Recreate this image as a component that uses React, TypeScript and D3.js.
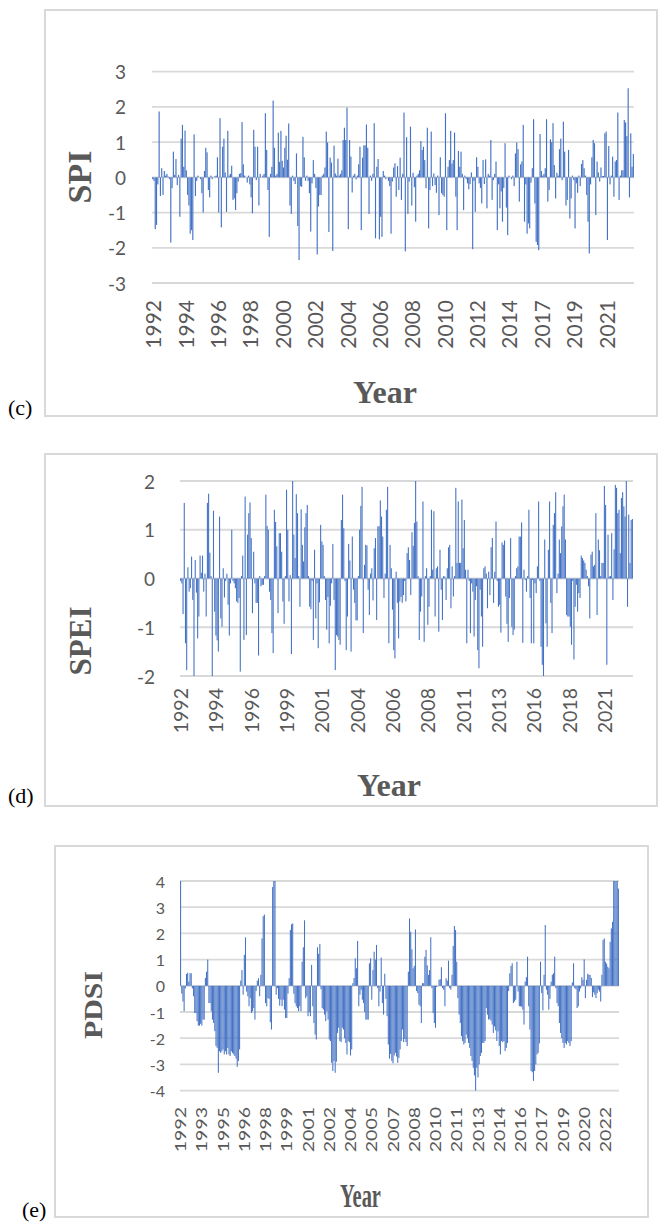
import React from 'react';
import * as d3 from 'd3';

// monthly series, Jan 1992 .. Dec 2022
const YEARS = [
  1992, 1993, 1994, 1995, 1996, 1997, 1998, 1999, 2000, 2001, 2002,
  2003, 2004, 2005, 2006, 2007, 2008, 2009, 2010, 2011, 2012, 2013,
  2014, 2015, 2016, 2017, 2018, 2019, 2020, 2021, 2022,
];
const MONTHS = YEARS.flatMap((y) => d3.range(1, 13).map((m) => `${y}-${m}`));

const SPI = [
  -0.05, -0.1, -1.47, -1.35, -0.2, 1.87, -0.53, 0.26, -0.5, 0.18, 0.05, 0.1,
  0.02, -0.05, -1.85, -0.31, 0.73, 0.07, 0.52, -0.22, 0.07, -1.12, 1.1, 1.49,
  0.3, 1.33, 0.2, -0.5, -0.8, -1.6, -1.5, -1.78, 1.22, -0.53, -0.1, 0.05,
  0.0, -0.05, -0.45, -1.0, 0.18, 0.84, 0.71, -0.36, -0.57, 0.05, -0.05, 0.0,
  0.03, 0.05, 0.57, -1.0, 1.68, -1.42, 0.87, 1.1, 0.14, -0.98, 1.32, 0.05,
  0.1, 0.33, -0.64, -0.6, -0.93, -0.45, -0.12, 0.1, 0.12, 1.57, 0.37, 0.05,
  0.0, -0.15, 0.05, -0.2, -0.57, -1.02, 1.35, 0.87, -0.08, 0.87, -0.8, 0.1,
  0.0, 0.05, 0.1, 1.82, 0.78, -0.36, -1.69, 0.1, 0.3, 2.18, 0.84, 0.05,
  0.1, 1.27, 0.44, 1.32, 0.47, 0.28, 0.84, 1.18, 0.5, 1.53, -0.8, -1.04,
  0.05, -0.1, -0.19, 0.68, -1.38, -2.35, -0.25, -0.27, 1.15, 0.57, -0.1, 0.05,
  -0.1, -0.45, -1.54, -0.17, 0.49, 0.1, -0.3, -2.19, -0.83, -0.5, -0.5, 0.05,
  0.1, 0.28, 1.3, 0.99, -1.55, 0.56, 0.42, -2.09, 0.9, 0.11, 0.05, 0.53,
  0.05, 0.1, 0.2, 1.06, 1.41, 1.06, 1.98, -1.47, 1.06, 0.59, -0.43, 0.05,
  0.1, -0.06, 0.05, 0.37, 0.87, -1.5, 0.56, 0.91, 0.91, 1.5, 0.84, -1.04,
  0.05, -0.1, 0.1, 1.54, -1.73, 0.3, 0.52, -1.76, -1.12, -1.69, 0.18, 0.05,
  -0.05, 0.0, -0.1, -0.25, -1.6, -0.12, 0.28, 0.4, -0.55, 0.32, -0.36, 0.56,
  -0.64, 0.1, 1.84, -2.1, 1.14, -1.04, -0.12, 1.44, -0.8, 0.13, -0.28, -1.26,
  0.05, 0.1, 0.2, 1.03, 0.78, 0.87, 0.49, -0.31, 1.41, -1.45, -0.36, 1.3,
  -0.25, 0.11, -0.22, -0.44, 0.05, -1.07, 0.57, -0.45, -0.5, -0.55, 1.82, -1.5,
  0.3, 0.49, 1.32, 0.39, 0.49, 1.27, -0.55, -1.5, 0.75, 0.3, 0.73, 0.1,
  -0.93, 0.05, -0.05, -0.17, -0.34, -0.19, 0.14, -2.04, -0.1, -0.98, 0.57, 0.3,
  -0.17, -0.3, -0.74, 0.49, -0.19, 0.51, -0.88, 0.1, 0.05, 1.06, -0.64, -0.08,
  0.1, 0.45, -1.5, -0.2, -0.88, -0.4, -1.26, -0.3, 0.97, -0.86, -1.64, 0.05,
  0.0, -0.05, 0.05, -0.25, 0.68, 0.99, 0.8, -0.69, 0.37, 0.45, 1.49, -1.26,
  -0.2, -1.6, -1.31, -1.45, -0.15, 0.26, 1.65, -0.74, -1.83, -1.92, -2.07, 1.23,
  0.18, 0.05, 0.1, 0.26, 1.65, -0.69, -0.36, 1.08, 1.0, 1.54, 0.35, -0.6,
  0.13, 0.05, 0.8, 1.1, -0.08, 1.58, 0.73, -0.8, -0.64, 0.78, -1.17, -0.6,
  0.05, -0.08, -1.45, -0.17, -0.44, 0.05, -0.25, 0.38, 0.49, 0.26, 0.05, -0.5,
  -1.26, -2.16, -0.2, 0.57, 1.06, 0.97, -1.07, 0.45, 0.14, -0.12, 0.28, 0.04,
  0.04, 1.25, 1.3, -1.78, 0.89, -0.2, 0.05, 0.59, -0.55, 0.45, 0.49, 1.84,
  -0.64, 0.05, 0.2, 0.2, 1.63, 1.56, 1.17, 2.53, -0.57, 1.25, 0.3, 0.66,
];

const SPEI = [
  -0.05, -0.1, -0.73, 1.55, -1.33, -1.88, 0.23, -0.27, -0.2, 0.45, -0.44, -2.0,
  0.38, -0.29, -1.23, -0.78, 0.47, 0.12, 0.47, -0.27, 0.1, -0.78, 1.55, 1.74,
  0.53, 0.05, -2.0, 1.39, -0.68, -1.17, -1.27, -1.5, 1.27, -0.82, -0.99, 0.21,
  -0.39, -0.05, 0.1, -0.54, -1.17, -0.1, 1.0, -0.05, -0.1, -0.2, -0.47, -0.5,
  -0.4, -1.91, 0.05, 0.47, -1.26, 1.68, -1.16, 0.9, 1.34, 1.56, 0.83, -0.71,
  0.55, -0.1, -0.5, -0.5, -1.58, 0.05, -0.16, -0.13, -0.13, 0.05, 1.72, 1.08,
  1.0, -0.27, -0.44, -1.12, -1.53, 1.41, 1.16, 0.66, -0.71, 0.93, 0.93, 0.55,
  -0.47, -0.93, 0.05, 1.82, 1.0, -0.47, 0.07, -1.55, 2.03, 0.9, 0.42, 1.73,
  1.34, 0.05, -0.58, 1.42, 0.69, 0.35, 1.05, 1.34, 1.51, 0.05, -0.58, -0.63,
  -0.05, -1.26, 0.59, -0.82, -0.1, -1.43, -0.49, 1.1, 0.76, 0.69, 0.05, -0.44,
  -1.05, -0.38, -1.33, -0.56, -0.1, 0.71, -0.44, -1.88, -1.16, -1.19, -1.26, -1.36,
  1.2, 1.72, 1.03, -0.05, -1.47, -0.78, 0.71, 0.37, -1.5, 0.86, -0.23, -0.5,
  -0.86, -0.86, 0.05, 1.0, 1.49, 1.88, -1.12, 0.28, 0.69, 0.68, -0.23, -0.75,
  0.1, 0.21, -0.45, 0.62, 0.83, -0.85, 1.07, 1.07, 1.6, 1.27, 0.86, -0.4,
  0.1, 1.41, 1.88, -1.33, 0.69, 0.21, -0.64, -1.47, -1.64, 0.14, -0.5, -1.23,
  -0.47, -0.38, -0.5, -0.34, -0.05, -0.47, 0.52, 0.64, 0.38, -0.34, 0.95, 0.67,
  1.14, 2.01, 1.17, 0.05, -1.26, -0.68, -0.37, 1.58, -1.3, 0.05, 0.21, -0.95,
  -0.58, 0.05, 1.41, 0.18, 1.38, -0.78, 0.21, 0.25, -1.09, 0.59, -0.23, -0.85,
  0.05, 0.04, -0.44, 0.21, 0.64, 0.69, -0.61, 0.25, -0.37, 0.05, 1.86, 0.32,
  1.58, 0.32, 0.32, 1.62, 0.62, 1.2, 0.18, -1.33, 0.18, -0.05, -1.12, -0.1,
  -0.27, -1.19, -0.44, -0.16, -1.47, -1.84, -0.23, -0.78, -1.4, 0.21, 0.25, 0.1,
  -0.61, 0.14, -0.34, 0.64, 0.83, -0.5, 0.14, 1.17, -0.05, -0.58, -0.54, -1.11,
  0.74, 0.69, 0.78, -0.37, -0.93, -1.3, -0.4, 0.83, -0.99, -1.16, -1.05, 0.05,
  0.21, 0.25, 0.86, 0.86, 1.15, -1.32, 0.18, -0.03, -0.27, 0.05, 1.41, -0.4,
  -1.33, -0.03, -1.33, -0.1, -0.3, 0.25, 1.58, -0.05, -1.4, -1.77, -2.01, 0.8,
  -0.92, -1.4, 0.59, 1.58, -0.5, -1.12, 1.1, 1.34, 1.77, -0.3, 0.1, 0.8,
  0.52, 1.07, 1.48, 1.72, 0.8, -0.75, -0.78, -0.78, -0.99, -1.36, -0.05, -1.66,
  -0.58, -0.13, -0.68, -0.3, -0.4, 0.47, 0.42, 0.37, 0.32, 0.18, 0.05, -0.16,
  -0.82, 0.49, 0.55, 0.25, 0.28, 1.34, -0.75, 0.8, 0.58, 0.05, 0.32, 0.32,
  1.9, 1.51, -1.77, 0.9, 0.04, 0.05, 0.93, -0.44, 0.6, 1.92, 1.86, 1.34,
  1.41, 0.52, 1.65, 1.77, 1.48, 1.27, 2.03, -0.58, 1.31, 0.32, 1.2, 1.22,
];

const PDSI = [
  4.0, -0.3, -0.6, -0.97, -0.1, 0.45, 0.5, 0.16, 0.48, 0.48, -0.1, -0.4,
  -1.04, -1.04, -1.35, -1.52, -1.52, -1.45, -1.52, -1.29, -1.29, 0.3, 0.54, 1.0,
  -0.66, -0.66, -0.97, -1.29, -1.42, -1.73, -2.3, -2.37, -3.32, -2.5, -2.56, -2.5,
  -2.43, -2.62, -2.5, -2.62, -2.37, -2.62, -2.68, -2.5, -2.56, -2.62, -2.68, -2.78,
  -3.09, -2.87, -2.43, 0.2, 0.6, -0.34, 1.18, 1.85, -0.22, -0.4, -0.78, -0.47,
  -1.04, -0.97, -0.85, -1.29, -0.2, 0.2, 0.29, -0.4, 0.42, 1.81, 2.66, 2.72,
  -0.66, -0.78, -0.47, -0.5, -1.39, -1.67, 3.77, 4.0, 4.0, -0.34, -0.09, -0.5,
  -0.76, -0.53, -0.78, -0.53, -0.91, -1.23, -1.23, -0.3, 0.29, 2.13, 2.35, 2.38,
  -0.3, -0.66, -0.78, -0.85, -0.97, -0.78, -0.97, 0.92, 1.47, 2.5, -0.47, -0.4,
  -1.16, -1.0, -1.16, 0.8, -0.78, -1.42, -1.86, -2.05, 1.47, 1.22, 1.6, -0.13,
  -0.85, -0.91, -1.1, -1.35, -0.97, -1.29, -2.05, -2.11, -2.94, -3.25, -2.87, -3.32,
  -2.9, -1.8, -1.6, -2.11, -2.15, -1.6, -1.67, -2.0, -2.18, -2.62, -2.11, -2.15,
  -2.66, -2.43, 0.1, 0.3, 1.05, 0.67, 1.71, -0.78, -0.34, -0.15, -0.53, -0.66,
  -1.0, -1.29, -1.29, -1.29, 0.86, 1.05, -0.53, 0.6, 1.3, 1.0, 1.56, -0.09,
  -0.78, -0.22, 1.08, -0.66, -1.1, 0.46, -0.5, -1.16, -2.24, -2.78, -2.6, -2.87,
  -2.96, -2.66, -2.56, -2.7, -2.94, -2.75, -2.43, -2.11, -1.67, -2.15, -2.03, -2.15,
  -2.3, 0.54, 2.57, 2.06, 1.39, 0.67, 0.76, 2.15, -0.2, -0.28, -0.72, -0.78,
  -1.42, 0.1, 0.1, 1.11, 1.37, 0.78, 0.42, 0.6, 1.85, -0.09, -1.04, -1.42,
  -1.6, -0.05, 0.0, 0.23, 0.25, 0.71, -0.09, -0.15, -0.78, 0.29, 0.2, 0.96,
  -0.09, -0.15, 0.42, 1.52, 2.28, 2.13, 0.92, -0.47, -1.1, -1.42, -1.92, -2.11,
  -2.24, -2.18, -1.86, -2.0, -2.18, -2.37, -2.68, -2.87, -3.13, -3.42, -4.0, -3.13,
  -3.5, -3.0, -2.68, -2.56, -2.18, -2.18, -2.11, -0.85, -1.1, -1.29, -1.27, -1.33,
  -1.48, -1.8, -1.55, -1.7, -2.11, -1.74, -2.3, -2.62, -2.11, -2.15, -2.11, -2.49,
  -2.37, -2.18, -0.2, 0.48, 0.76, 0.86, -0.66, -0.6, -0.53, 0.92, -0.22, -0.78,
  -0.78, -0.8, -0.91, -1.48, 0.16, 0.33, 1.11, -0.78, -1.67, -3.25, -3.3, -3.63,
  -3.25, -3.0, -2.62, -2.56, -2.2, 0.92, -0.28, -0.94, 0.42, 2.32, -0.15, -0.34,
  -0.91, -0.5, 0.16, 0.42, 0.48, 1.11, -0.09, -0.66, -0.78, -1.42, -1.8, -2.0,
  -2.18, -2.37, -2.18, -2.24, -2.11, -2.18, -2.3, -2.11, 0.13, 0.86, -0.09, -0.13,
  -0.85, -0.78, -0.22, -0.1, 0.33, 0.23, 1.01, -0.47, 0.23, 0.46, 0.42, 0.42,
  0.3, -0.43, -0.25, -0.34, -0.47, -0.28, -0.15, -0.22, -0.6, 0.42, 1.75, 1.81,
  0.92, 0.85, 0.73, 0.67, 1.68, 2.19, 2.44, 4.0, 4.0, 4.0, 4.0, 3.71,
];

const SPI_TICKS = [-3, -2, -1, 0, 1, 2, 3];
const SPEI_TICKS = [-2, -1, 0, 1, 2];
const PDSI_TICKS = [-4, -3, -2, -1, 0, 1, 2, 3, 4];

const BAR = '#4472c4';
const GRID = '#d9d9d9';
const TEXT = '#595959';
const SANS = 'Lato, "Open Sans", sans-serif';
const SERIF = '"Liberation Serif", "Times New Roman", serif';

function Panel({ values, ticks, every, g }) {
  const x = d3.scaleBand<number>()
    .domain(d3.range(values.length))
    .range([g.x0, g.x1])
    .paddingInner(0.12)
    .paddingOuter(0.06);
  const y = d3.scaleLinear()
    .domain([ticks[0], ticks[ticks.length - 1]])
    .range([g.yb, g.yt]);
  const clamp = (v) => Math.max(ticks[0], Math.min(ticks[ticks.length - 1], v));
  const labelIdx = d3.range(0, values.length, every);

  return (
    <g>
      <rect x={g.fx} y={g.fy} width={g.fw} height={g.fh} fill="none" stroke={GRID} strokeWidth={2} />
      {ticks.map((t) => (
        <line key={t} x1={g.x0} x2={g.x1} y1={y(t)} y2={y(t)} stroke={GRID} strokeWidth={1.8} />
      ))}
      {values.map((v, i) => {
        const c = clamp(v);
        return (
          <rect
            key={i}
            x={x(i)}
            width={x.bandwidth()}
            y={y(Math.max(0, c))}
            height={Math.abs(y(c) - y(0))}
            fill={BAR}
          />
        );
      })}
      {ticks.map((t) => (
        <text
          key={t}
          transform={`translate(${g.tx},${y(t)}) scale(${g.tsx || 1},1)`}
          textAnchor="end"
          dominantBaseline="central"
          fontFamily={SANS}
          fontSize={g.tfs}
          fill={TEXT}
        >
          {t}
        </text>
      ))}
      {labelIdx.map((i) => (
        <text
          key={i}
          transform={`translate(${x(i) + x.bandwidth() / 2},${g.ly}) rotate(-90) scale(${g.lsx || 1},1)`}
          textAnchor="end"
          dominantBaseline="central"
          fontFamily={SANS}
          fontSize={g.lfs}
          fill={TEXT}
        >
          {MONTHS[i].split('-')[0]}
        </text>
      ))}
      <text
        transform={`translate(${g.yx},${g.yy}) rotate(-90) scale(${g.ysx || 1},1)`}
        textAnchor="middle"
        dominantBaseline="central"
        fontFamily={SERIF}
        fontWeight="bold"
        fontSize={g.yfs}
        fill={TEXT}
      >
        {g.title}
      </text>
      <text
        transform={`translate(${g.xx},${g.xy}) scale(${g.xsx || 1},1)`}
        textAnchor="middle"
        fontFamily={SERIF}
        fontWeight="bold"
        fontSize={g.xfs}
        fill={TEXT}
      >
        Year
      </text>
      <text x={g.px} y={g.py} fontFamily={SERIF} fontSize={22} fill="#000">
        {g.tag}
      </text>
    </g>
  );
}

const panelC = {
  x0: 152, x1: 634, yt: 71.7, yb: 283,
  fx: 45, fy: 10, fw: 612, fh: 406,
  tx: 126, tfs: 19, ly: 300, lfs: 21,
  yx: 79, yy: 177, yfs: 34, title: 'SPI',
  xx: 385, xy: 403, xfs: 32,
  px: 8, py: 415, tag: '(c)',
};
const panelD = {
  x0: 180, x1: 633, yt: 481, yb: 676,
  fx: 45, fy: 454, fw: 612, fh: 352,
  tx: 155, tfs: 19, ly: 688, lfs: 19.5,
  yx: 80, yy: 641, yfs: 31, title: 'SPEI',
  xx: 389, xy: 796, xfs: 32,
  px: 8, py: 803, tag: '(d)',
};
const panelE = {
  x0: 180, x1: 619, yt: 881, yb: 1090.6,
  fx: 55, fy: 846, fw: 593, fh: 371,
  tx: 165, tfs: 16, ly: 1107, lfs: 15, lsx: 1.3,
  yx: 93, yy: 1005, yfs: 26, ysx: 1.15, title: 'PDSI',
  xx: 360.5, xy: 1207, xfs: 33, xsx: 0.62,
  px: 22, py: 1217, tag: '(e)',
};

export default function App() {
  return (
    <div style={{ position: 'absolute', left: 0, top: 0 }}>
      <svg width={659} height={1222} style={{ display: 'block', background: '#fff' }}>
        <Panel values={SPI} ticks={SPI_TICKS} every={25} g={panelC} />
        <Panel values={SPEI} ticks={SPEI_TICKS} every={29} g={panelD} />
        <Panel values={PDSI} ticks={PDSI_TICKS} every={18} g={panelE} />
      </svg>
    </div>
  );
}
